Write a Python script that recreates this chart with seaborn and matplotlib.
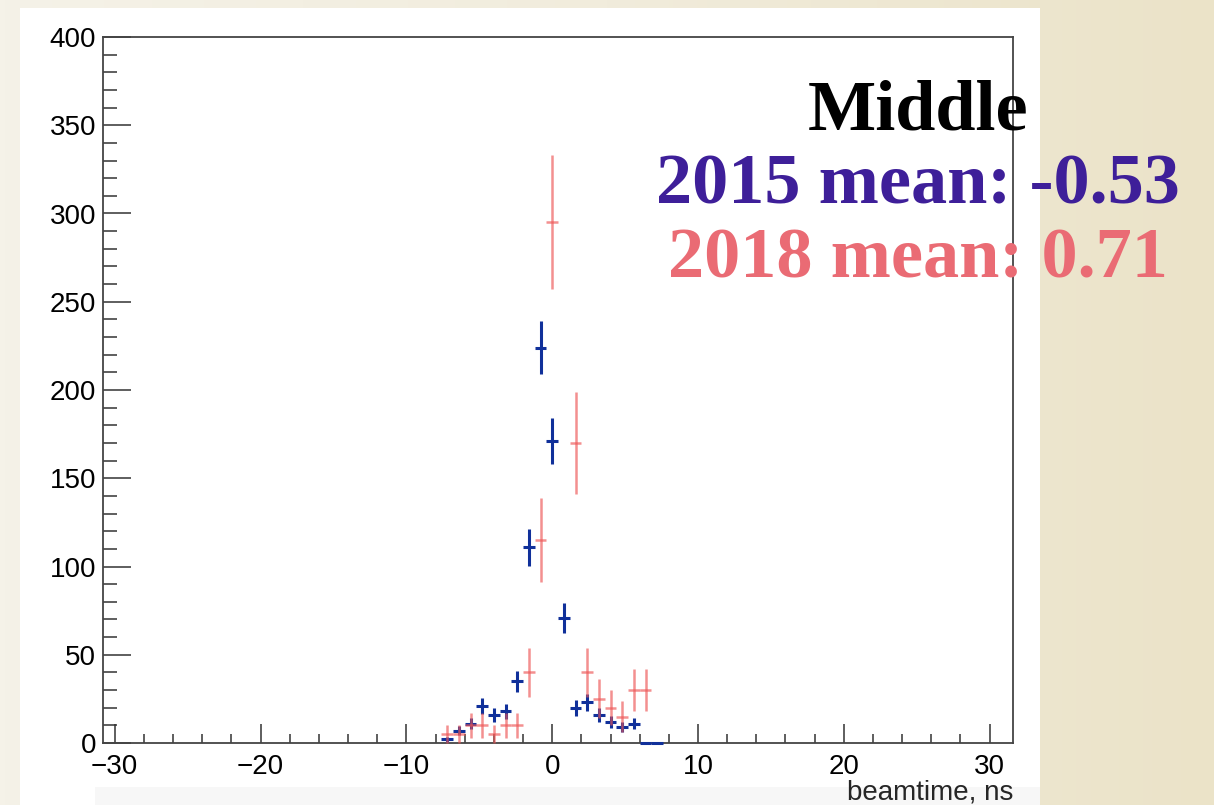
import numpy as np
import pandas as pd
import seaborn as sns
import matplotlib.pyplot as plt
from matplotlib.patches import Rectangle
from matplotlib.ticker import MultipleLocator

# 2015 (blue) beamtime histogram, bin width 0.8 ns
t2015 = [-7.2, -6.4, -5.6, -4.8, -4.0, -3.2, -2.4, -1.6, -0.8, 0.0, 0.8, 1.6, 2.4, 3.2, 4.0, 4.8, 5.6, 6.4, 7.2]
n2015 = [2, 7, 11, 21, 16, 18, 35, 111, 224, 171, 71, 20, 23, 16, 12, 9, 11, 0, 0]
e2015 = [1.4, 2.6, 3.3, 4.6, 4.0, 4.2, 5.9, 10.5, 15, 13, 8.4, 4.5, 4.8, 4.0, 3.5, 3.0, 3.3, 0, 0]

# 2018 (red) beamtime histogram
t2018 = [-7.2, -6.4, -5.6, -4.8, -4.0, -3.2, -2.4, -1.6, -0.8, 0.0, 1.6, 2.4, 3.2, 4.0, 4.8, 5.6, 6.4]
n2018 = [5, 5, 10, 10, 5, 10, 10, 40, 115, 295, 170, 40, 25, 20, 15, 30, 30]
e2018 = [5, 5, 7, 7, 5, 7, 7, 14, 24, 38, 29, 14, 11, 10, 9, 12, 12]

bin_half = 0.4
labels = ['Middle', '2015 mean: -0.53', '2018 mean: 0.71']
label_colors = ['black', '#3e1f99', '#ea6b74']

df15 = pd.DataFrame({'beamtime': t2015, 'counts': n2015, 'err': e2015})
df18 = pd.DataFrame({'beamtime': t2018, 'counts': n2018, 'err': e2018})

sns.set_theme(style='ticks')
plt.rcParams['font.family'] = ['Liberation Sans', 'DejaVu Sans']

fig = plt.figure(figsize=(12.14, 8.05), dpi=100)

# beige slide background with a soft gradient
bg = fig.add_axes([0, 0, 1, 1], zorder=-10)
grad = np.linspace(0, 1, 256)[None, :]
bg.imshow(grad, aspect='auto', extent=[0, 1, 0, 1],
          cmap=sns.blend_palette(['#f5f2e8', '#f1ecdc', '#ebe3c8'], as_cmap=True))
bg.set_axis_off()

# white canvas of the ROOT plot
fig.patches.append(Rectangle((20 / 1214, 0), 1020 / 1214, 1 - 8 / 805,
                             transform=fig.transFigure, facecolor='white',
                             edgecolor='none', zorder=-5))
fig.patches.append(Rectangle((95 / 1214, 0), 945 / 1214, 18 / 805,
                             transform=fig.transFigure, facecolor='#f7f7f7',
                             edgecolor='none', zorder=-4))

ax = fig.add_axes([103 / 1214, 62 / 805, 910 / 1214, 706 / 805])
ax.set_facecolor('white')

ax.errorbar(df15['beamtime'], df15['counts'], xerr=bin_half, yerr=df15['err'],
            fmt='none', ecolor='#10309a', elinewidth=2.2, capsize=0, zorder=3,
            clip_on=False)
ax.errorbar(df18['beamtime'], df18['counts'], xerr=bin_half, yerr=df18['err'],
            fmt='none', ecolor='#ee5555', elinewidth=1.8, capsize=0, alpha=0.65, zorder=4,
            clip_on=False)

ax.set_xlim(-30.8, 31.6)
ax.set_ylim(0, 400)
ax.xaxis.set_major_locator(MultipleLocator(10))
ax.xaxis.set_minor_locator(MultipleLocator(2))
ax.yaxis.set_major_locator(MultipleLocator(50))
ax.yaxis.set_minor_locator(MultipleLocator(10))

ax.tick_params(axis='both', which='both', direction='in', colors='#333333',
               width=1.1, labelsize=20, labelcolor='black')
ax.tick_params(axis='y', which='major', length=20, pad=5)
ax.tick_params(axis='y', which='minor', length=10)
ax.tick_params(axis='x', which='major', length=14, pad=8)
ax.tick_params(axis='x', which='minor', length=6.5)
ax.set_xticklabels([f'{int(v)}'.replace('-', '\u2212') for v in ax.get_xticks()])

for side in ['left', 'right', 'top', 'bottom']:
    ax.spines[side].set_visible(True)
    ax.spines[side].set_color('#444444')
    ax.spines[side].set_linewidth(1.3)

ax.set_xlabel('')
ax.set_ylabel('')
ax.text(1.0, -0.07, 'beamtime, ns', transform=ax.transAxes, ha='right',
        va='center', fontsize=20)

for txt, col, yb in zip(labels, label_colors, [130, 203, 278]):
    fig.text(918 / 1214, 1 - yb / 805, txt, color=col, ha='center', va='baseline',
             fontsize=52, fontweight='bold', family=['Liberation Serif', 'DejaVu Serif'])

fig.savefig('out.png', dpi=100)
